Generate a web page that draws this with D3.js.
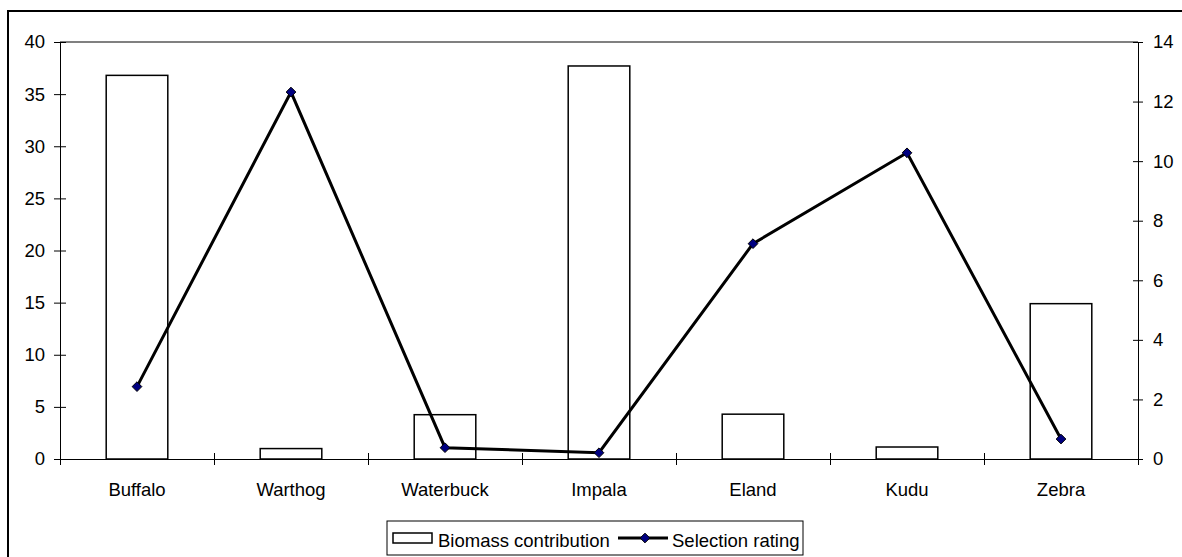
<!DOCTYPE html>
<html>
<head>
<meta charset="utf-8">
<script src="https://cdn.jsdelivr.net/npm/d3@7"></script>
<style>
  body { margin: 0; background: #fff; }
  svg text { font-family: "Liberation Sans", Arial, sans-serif; font-size: 18.5px; fill: #000; }
</style>
</head>
<body>
<div id="chart"></div>
<script>
var categories = ["Buffalo", "Warthog", "Waterbuck", "Impala", "Eland", "Kudu", "Zebra"];
var biomass = [36.8, 1.0, 4.25, 37.7, 4.3, 1.15, 14.9];
var selection = [2.43, 12.32, 0.38, 0.21, 7.23, 10.28, 0.67];
var leftTicks = [0, 5, 10, 15, 20, 25, 30, 35, 40];
var rightTicks = [0, 2, 4, 6, 8, 10, 12, 14];
var seriesNames = ["Biomass contribution", "Selection rating"];

var W = 1182, H = 557;
var margin = {top: 42, left: 60, right: 44, bottom: 98};
var width = W - margin.left - margin.right,
    height = H - margin.top - margin.bottom;

var svg = d3.select("#chart").append("svg")
  .attr("width", W)
  .attr("height", H);

// outer chart frame (runs off the right/bottom edge like the original)
svg.append("rect")
  .attr("x", 8).attr("y", 11)
  .attr("width", 1300).attr("height", 700)
  .attr("fill", "none")
  .attr("stroke", "#000")
  .attr("stroke-width", 2);

var main = svg.append("g")
  .attr("transform", "translate(" + margin.left + "," + margin.top + ")");

var x = d3.scaleBand().domain(categories).range([0, width]).padding(0);
var xb = d3.scaleLinear().domain([0, categories.length]).range([0, width]);
var yL = d3.scaleLinear().domain([0, 40]).range([height, 0]);
var yR = d3.scaleLinear().domain([0, 14]).range([height, 0]);

// top border of plot area
main.append("line")
  .attr("x1", 0).attr("x2", width)
  .attr("y1", 0).attr("y2", 0)
  .attr("stroke", "#808080")
  .attr("stroke-width", 2);

// bars
var barW = x.bandwidth() * 0.4;
main.selectAll("rect.bar")
  .data(biomass)
  .enter().append("rect")
    .attr("class", "bar")
    .attr("x", function(d, i) { return x(categories[i]) + (x.bandwidth() - barW) / 2; })
    .attr("y", function(d) { return yL(d); })
    .attr("width", barW)
    .attr("height", function(d) { return height - yL(d); })
    .attr("fill", "#fff")
    .attr("stroke", "#000")
    .attr("stroke-width", 1.5);

// left axis
var gl = main.append("g")
  .call(d3.axisLeft(yL).tickValues(leftTicks).tickSizeInner(6).tickSizeOuter(0).tickPadding(9));
gl.selectAll(".tick line").attr("x1", -6).attr("x2", 6);
gl.selectAll("text").style("font-size", "18.5px");

// right axis
var gr = main.append("g")
  .attr("transform", "translate(" + width + ",0)")
  .call(d3.axisRight(yR).tickValues(rightTicks).tickSizeInner(5).tickSizeOuter(0).tickPadding(10));
gr.selectAll(".tick line").attr("x1", -5).attr("x2", 5);
gr.selectAll("text").style("font-size", "18.5px");

// bottom axis: boundary ticks + centered labels
var gb = main.append("g")
  .attr("transform", "translate(0," + height + ")")
  .call(d3.axisBottom(xb).tickValues(d3.range(categories.length + 1)).tickFormat("").tickSizeInner(6).tickSizeOuter(0));
gb.selectAll(".tick line").attr("y1", -6).attr("y2", 6);

var gc = main.append("g")
  .attr("transform", "translate(0," + height + ")")
  .call(d3.axisBottom(x).tickSize(0).tickPadding(24));
gc.select(".domain").remove();
gc.selectAll("text").style("font-size", "18.5px");

// selection line
var line = d3.line()
  .x(function(d, i) { return x(categories[i]) + x.bandwidth() / 2; })
  .y(function(d) { return yR(d); });

main.append("path")
  .datum(selection)
  .attr("d", line)
  .attr("fill", "none")
  .attr("stroke", "#000")
  .attr("stroke-width", 3);

var diamond = d3.symbol().type(d3.symbolDiamond2).size(60);
main.selectAll("path.marker")
  .data(selection)
  .enter().append("path")
    .attr("class", "marker")
    .attr("d", diamond)
    .attr("transform", function(d, i) {
      return "translate(" + (x(categories[i]) + x.bandwidth() / 2) + "," + yR(d) + ")";
    })
    .attr("fill", "#000080")
    .attr("stroke", "#000")
    .attr("stroke-width", 1);

// legend
var legend = svg.append("g").attr("transform", "translate(387,521)");
legend.append("rect")
  .attr("width", 416).attr("height", 34)
  .attr("fill", "#fff").attr("stroke", "#000").attr("stroke-width", 1);
legend.append("rect")
  .attr("x", 6).attr("y", 12).attr("width", 39).attr("height", 10)
  .attr("fill", "#fff").attr("stroke", "#000").attr("stroke-width", 1.5);
legend.append("text")
  .attr("x", 51).attr("y", 25.5)
  .text(seriesNames[0]);
legend.append("line")
  .attr("x1", 231).attr("x2", 281).attr("y1", 17).attr("y2", 17)
  .attr("stroke", "#000").attr("stroke-width", 3);
legend.append("path")
  .attr("d", diamond)
  .attr("transform", "translate(258,17)")
  .attr("fill", "#000080").attr("stroke", "#000").attr("stroke-width", 1);
legend.append("text")
  .attr("x", 285).attr("y", 25.5)
  .text(seriesNames[1]);
</script>
</body>
</html>
